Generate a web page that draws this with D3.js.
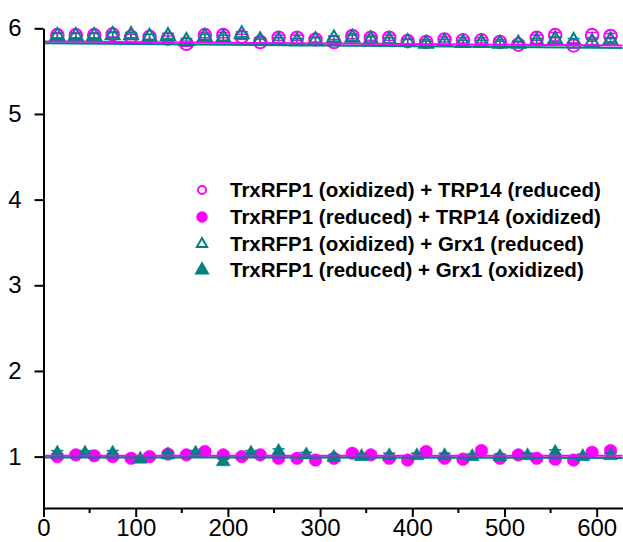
<!DOCTYPE html>
<html><head><meta charset="utf-8">
<script src="https://cdn.jsdelivr.net/npm/d3@7"></script>
<style>body{margin:0;background:#fff}svg{display:block}</style></head>
<body>
<script>
// ---- data ----
const x20 = [15,35,55,75,95,115,135,155,175,195,215,235,255,275,295,315,335,355,375,395,415,435,455,475,495,515,535,555,575,595,615];
const x30 = [15,45,75,105,135,165,195,225,255,285,315,345,375,405,435,465,495,525,555,585,615];
const oxTRP = [5.92,5.92,5.92,5.93,5.90,5.90,5.88,5.82,5.92,5.92,5.90,5.84,5.89,5.89,5.87,5.84,5.91,5.89,5.89,5.85,5.84,5.87,5.86,5.86,5.84,5.81,5.89,5.92,5.80,5.92,5.91];
const oxGrx = [5.91,5.91,5.91,5.92,5.92,5.90,5.91,5.85,5.90,5.89,5.93,5.86,5.86,5.85,5.86,5.88,5.89,5.87,5.86,5.84,5.82,5.84,5.83,5.83,5.82,5.82,5.85,5.87,5.85,5.84,5.86];
const redTRP = [1.00,1.02,1.01,1.00,0.98,1.00,1.03,1.02,1.06,1.02,1.00,1.02,0.98,0.98,0.96,0.98,1.04,1.02,0.98,0.96,1.06,0.98,0.97,1.07,0.98,1.02,0.98,0.97,0.96,1.05,1.07];
const redGrx = [1.04,1.04,1.04,0.97,1.02,1.04,0.94,1.04,1.06,1.02,0.99,1.00,1.01,1.01,1.01,1.00,1.00,1.01,1.05,1.00,1.01];
const errOx = 0.03;   // error bar half-height, open series
const errRed = 0.03;  // error bar half-height, filled series
const fitX = [0, 628];
const fitOxTRP = [5.845, 5.80];
const fitOxGrx = [5.825, 5.77];
const fitRedTRP = [1.01, 1.01];
const fitRedGrx = [0.99, 0.985];
const xTicks = [0,100,200,300,400,500,600];
const xMinor = [50,150,250,350,450,550];
const yTicks = [1,2,3,4,5,6];
const legendLabels = [
  "TrxRFP1 (oxidized) + TRP14 (reduced)",
  "TrxRFP1 (reduced) + TRP14 (oxidized)",
  "TrxRFP1 (oxidized) + Grx1 (reduced)",
  "TrxRFP1 (reduced) + Grx1 (oxidized)"
];

const MAG = "#ff00ff", TEAL = "#008080";
const W = 623, H = 542;
const svg = d3.select("body").append("svg").attr("width", W).attr("height", H);

const x = d3.scaleLinear().domain([0, 628]).range([43.5, 622.5]);
const y = d3.scaleLinear().domain([0.4, 6]).range([508, 28.3]);

const circ = d3.symbol().type(d3.symbolCircle).size(Math.PI*6.3*6.3)();
const tri = d3.symbol().type(d3.symbolTriangle).size(85)();

function series(xs, ys, err, path, color, filled) {
  const g = svg.append("g");
  const eb = g.selectAll("g.eb").data(xs).join("g").attr("class","eb")
    .attr("stroke", color).attr("stroke-width", 1.5);
  eb.append("line").attr("x1", d=>x(d)).attr("x2", d=>x(d))
    .attr("y1", (d,i)=>y(ys[i]-err)).attr("y2", (d,i)=>y(ys[i]+err));
  eb.append("line").attr("x1", d=>x(d)-6).attr("x2", d=>x(d)+6)
    .attr("y1", (d,i)=>y(ys[i]-err)).attr("y2", (d,i)=>y(ys[i]-err));
  eb.append("line").attr("x1", d=>x(d)-6).attr("x2", d=>x(d)+6)
    .attr("y1", (d,i)=>y(ys[i]+err)).attr("y2", (d,i)=>y(ys[i]+err));
  g.selectAll("path").data(xs).join("path")
    .attr("d", path)
    .attr("transform", (d,i) => `translate(${x(d)},${y(ys[i])})`)
    .attr("fill", filled ? color : "none")
    .attr("stroke", color)
    .attr("stroke-width", filled ? 0.5 : 2);
}
series(x20, oxTRP, errOx, circ, MAG, false);
series(x20, redTRP, errRed, circ, MAG, true);
series(x20, oxGrx, errOx, tri, TEAL, false);
series(x30, redGrx, errRed, tri, TEAL, true);

const line = d3.line().x(d => x(d[0])).y(d => y(d[1]));
[[fitOxTRP, MAG],[fitOxGrx, TEAL],[fitRedTRP, MAG],[fitRedGrx, TEAL]].forEach(([f,c]) => {
  svg.append("path").attr("d", line(fitX.map((v,i)=>[v,f[i]])))
    .attr("stroke", c).attr("stroke-width", 2).attr("fill","none");
});

// axes
const xAxis = svg.append("g").attr("transform", `translate(0,${y(0.4)})`)
  .call(d3.axisBottom(x).tickValues(xTicks).tickFormat(d3.format("d")).tickSize(9).tickSizeOuter(0).tickPadding(2));
xAxis.append("g").selectAll("line").data(xMinor).join("line")
  .attr("x1", d=>x(d)).attr("x2", d=>x(d)).attr("y1",0).attr("y2",5)
  .attr("stroke","#000").attr("stroke-width",2);
const yAxis = svg.append("g").attr("transform", `translate(${x(0)},0)`)
  .call(d3.axisLeft(y).tickValues(yTicks).tickFormat(d3.format("d")).tickSize(9).tickSizeOuter(0).tickPadding(13));
[xAxis, yAxis].forEach(g => {
  g.select(".domain").attr("stroke-width", 2);
  g.selectAll(".tick line").attr("stroke-width", 2);
  g.selectAll("text").attr("font-family","Liberation Sans, Arial, sans-serif").attr("font-size", 24).attr("fill","#000");
});

// legend
const lg = svg.append("g");
const ly = [190, 217, 244, 270];
const lsym = [
  [d3.symbol().type(d3.symbolCircle).size(50)(), MAG, false],
  [d3.symbol().type(d3.symbolCircle).size(70)(), MAG, true],
  [d3.symbol().type(d3.symbolTriangle).size(45)(), TEAL, false],
  [d3.symbol().type(d3.symbolTriangle).size(60)(), TEAL, true]
];
legendLabels.forEach((t,i) => {
  lg.append("path").attr("d", lsym[i][0]).attr("transform", `translate(202,${ly[i]})`)
    .attr("fill", lsym[i][2] ? lsym[i][1] : "none").attr("stroke", lsym[i][1]).attr("stroke-width", 2);
  lg.append("text").attr("x", 230).attr("y", ly[i]).attr("dy","0.35em")
    .attr("font-family","Liberation Sans, Arial, sans-serif").attr("font-weight","bold")
    .attr("font-size", 20.5).text(t);
});
</script>
</body></html>
